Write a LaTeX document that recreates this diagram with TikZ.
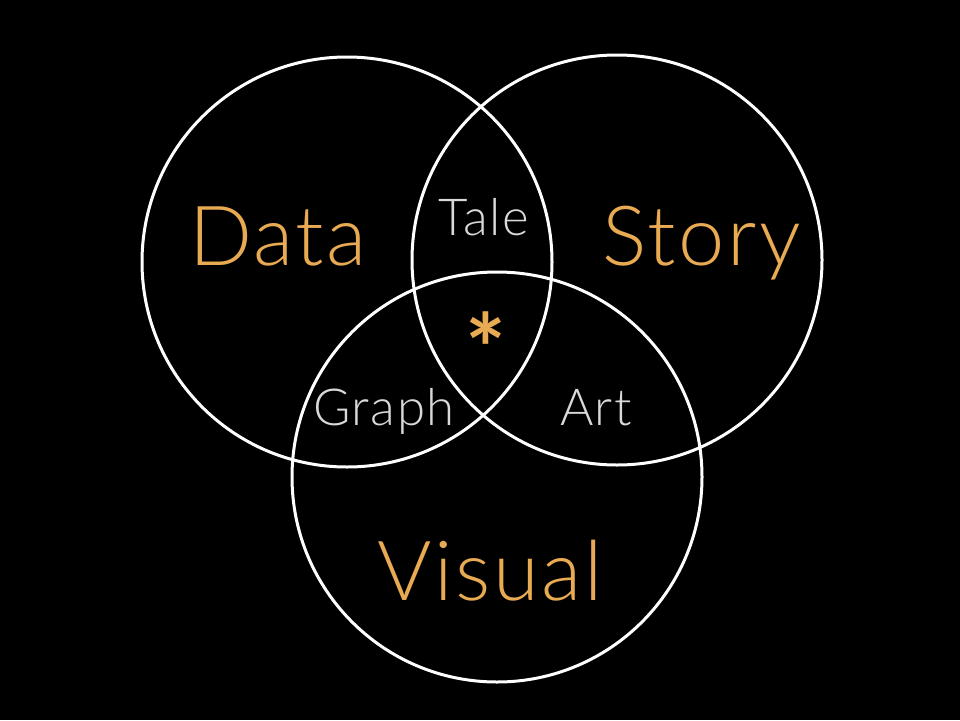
\documentclass[tikz,border=0pt]{standalone}
\usepackage{fontspec}
\setmainfont{Lato}[UprightFont=* Light, BoldFont=* Bold]
\newfontfamily\widefont{Lato}[UprightFont=* Light, LetterSpace=3]
\newfontfamily\starfont{Lato}[UprightFont=* Bold]
\definecolor{accent}{HTML}{E8AA52}
\definecolor{softgray}{HTML}{D9D9D9}
\begin{document}
\begin{tikzpicture}[x=1pt,y=-1pt,
  ring/.style={circle, draw=white, line width=3pt, minimum size=410pt, inner sep=0pt},
  bigword/.style={anchor=base, text=accent, font=\widefont\fontsize{83}{83}\selectfont},
  smallword/.style={anchor=base, text=softgray, font=\widefont\fontsize{51}{51}\selectfont}]
\fill[black] (0,0) rectangle (960,720);
\useasboundingbox (0,0) rectangle (960,720);
\node[ring] (cdata) at (347,262) {};
\node[ring] (cstory) at (617,260) {};
\node[ring] (cvisual) at (497,477) {};
\node[bigword] (data) at (278,265) {Data};
\node[bigword] (story) at (702,265) {Story};
\node[bigword] (visual) at (490,600) {Visual};
\node[smallword] (tale) at (484,235) {Tale};
\node[smallword] (graph) at (384,425) {Graph};
\node[smallword] (art) at (596,425) {Art};
\node[anchor=base, text=accent, font=\starfont\fontsize{96}{96}\selectfont] (star) at (486,384) {*};
\end{tikzpicture}
\end{document}
